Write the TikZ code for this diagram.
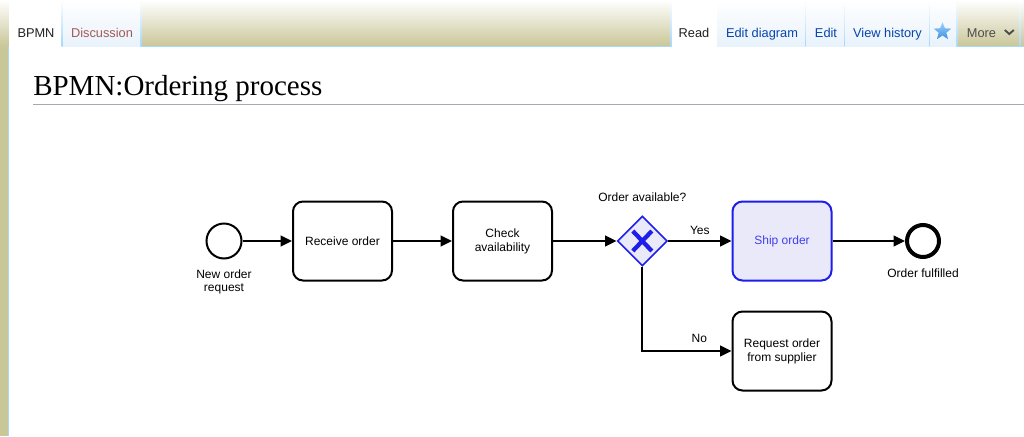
\documentclass[tikz,border=0pt]{standalone}
\usepackage{fontspec}
\setmainfont{Liberation Sans}
\newfontfamily\headfont{Liberation Serif}
\usepackage{xcolor}
\usetikzlibrary{positioning,arrows.meta,shapes.geometric,calc}

\definecolor{khaki}{RGB}{201,198,152}
\definecolor{tabblue}{RGB}{232,242,251}
\definecolor{sepblue}{RGB}{167,215,249}
\definecolor{linkblue}{RGB}{6,69,173}
\definecolor{visited}{RGB}{165,88,88}
\definecolor{headrule}{RGB}{162,169,177}
\definecolor{bpmnblue}{RGB}{30,30,235}
\definecolor{bpmnfill}{RGB}{233,233,250}
\definecolor{startop}{RGB}{160,210,248}
\definecolor{starbot}{RGB}{58,143,226}

\begin{document}
\begin{tikzpicture}[
  x=0.75pt, y=-0.75pt, font=\fontsize{9pt}{10.5pt}\selectfont,
  >={Triangle[length=8.5pt,width=8pt]},
  task/.style={draw,line width=1.5pt,rounded corners=7.5pt,minimum width=74.25pt,minimum height=59.25pt,align=center,inner sep=0pt},
  event/.style={circle,draw,line width=1.5pt,minimum size=26.25pt,inner sep=0pt},
  gateway/.style={diamond,draw=bpmnblue,fill=bpmnfill,line width=1.2pt,minimum width=37.5pt,minimum height=37.5pt,inner sep=0pt},
  flow/.style={->,line width=1.5pt},
  caption/.style={align=center,font=\fontsize{9pt}{9.75pt}\selectfont},
  tabtext/.style={anchor=base,font=\fontsize{9.6pt}{11pt}\selectfont},
  tabfill/.style={top color=white,bottom color=tabblue},
  tabsep/.style={top color=white,bottom color=sepblue}
]
\useasboundingbox (0,0) rectangle (1024,436);

% page frame
\fill[khaki] (0,0) rectangle (1024,436);
\shade[top color=white,bottom color=khaki] (0,0) rectangle (1024,46.5);
\fill[sepblue] (7.5,46) rectangle (9,436);
\fill[white] (9,46.5) rectangle (1024,436);
\draw[sepblue,line width=0.75pt] (9,46.5) -- (1024,46.5);

% tabs
\foreach \a/\b in {62/141,717/806,806/845,845/930,930/957} {
  \shade[tabfill] (\a,0) rectangle (\b,46);
  \shade[tabsep] (\b-0.5,0) rectangle (\b+0.5,46);
}
\shade[tabsep] (1019.5,0) rectangle (1020.5,46);
\fill[white] (9,0) rectangle (62,47.5);
\shade[tabsep] (61.5,0) rectangle (62.5,46);
\fill[white] (671,0) rectangle (717,47.5);
\shade[tabsep] (670.5,0) rectangle (671.5,46);

\node[tabtext,text=black!87] (page) at (36,37) {BPMN};
\node[tabtext,text=visited] (talk) at (102,37) {Discussion};
\node[tabtext,text=black!87] (read) at (694,37) {Read};
\node[tabtext,text=linkblue] (editdia) at (762,37) {Edit diagram};
\node[tabtext,text=linkblue] (edit) at (826,37) {Edit};
\node[tabtext,text=linkblue] (hist) at (887.5,37) {View history};
\node[star,star points=5,star point ratio=2.3,top color=startop,bottom color=starbot,minimum size=14pt,inner sep=0pt] (watch) at (942.5,31.5) {};
\node[tabtext,text=black!70] (more) at (981.5,37) {More};
\draw[black!70,line width=1.4pt] ($(more.base east)+(4,-7)$) -- ++(4.5,4) -- ++(4.5,-4);

% heading
\node[anchor=base west,inner sep=0pt,font=\headfont\fontsize{21.75pt}{26pt}\selectfont] (title) at (33,95) {BPMN:Ordering process};
\draw[headrule,line width=0.75pt] (33,104.5) -- (1024,104.5);

% process
\node[event] (start) at (224,241) {};
\node[task] (receive) at (342.5,241) {Receive order};
\node[task] (check) at (502.5,241) {Check\\availability};
\node[gateway] (gw) at (642.3,241) {};
\node[task,draw=bpmnblue,fill=bpmnfill,text=bpmnblue!85] (ship) at (782,241) {Ship order};
\node[event,line width=3pt,minimum size=24pt] (fulfil) at (923,241) {};
\node[task] (request) at (782,351) {Request order\\from supplier};

\draw[bpmnblue,line width=3.2pt] ($(gw)+(-9.5,-10)$) -- ($(gw)+(9.5,10)$)
  ($(gw)+(9.5,-10)$) -- ($(gw)+(-9.5,10)$);

\node[caption,below=4pt of start] (startlbl) {New order\\request};
\node[caption,below=4pt of fulfil] (fulfillbl) {Order fulfilled};
\node[caption,above=6.5pt of gw] (gwlbl) {Order available?};

\draw[flow] (start) -- (receive);
\draw[flow] (receive) -- (check);
\draw[flow] (check) -- (gw);
\draw[flow] (gw) -- node[above=1pt] {Yes} (ship);
\draw[flow] (ship) -- (fulfil);
\draw[flow] (gw) |- node[pos=0.82,above=2pt] {No} (request);
\end{tikzpicture}
\end{document}
